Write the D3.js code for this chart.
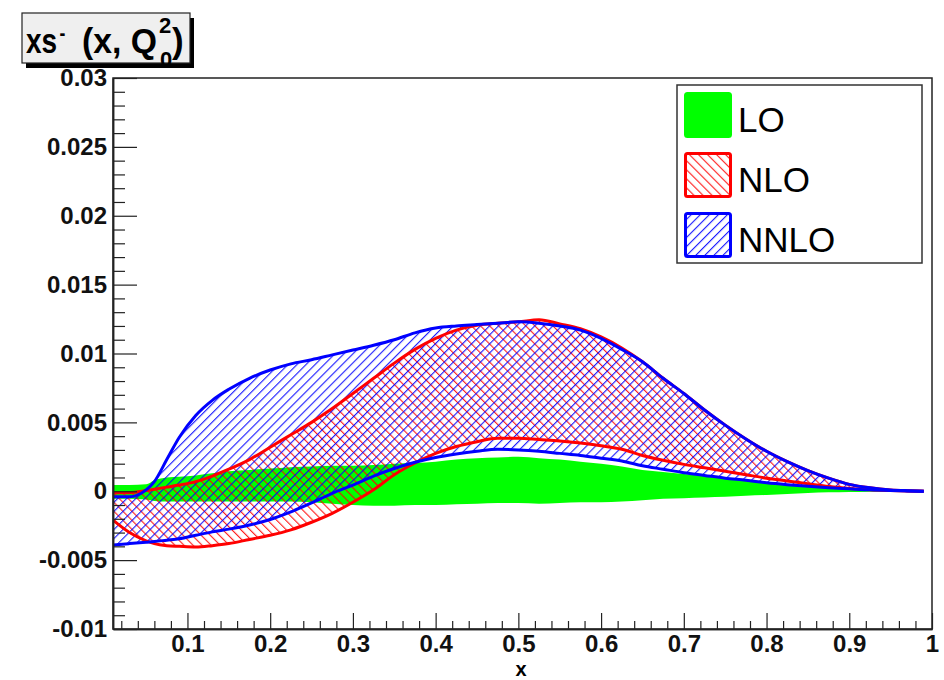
<!DOCTYPE html>
<html>
<head>
<meta charset="utf-8">
<script src="https://cdn.jsdelivr.net/npm/d3@7"></script>
<style>
  body { margin: 0; background: #fff; }
  text { font-family: "Liberation Sans", Arial, Helvetica, sans-serif; }
</style>
</head>
<body>
<div id="chart"></div>
<script>
// Data (y values in units of 1e-3)
var xGrid = [0.01, 0.03, 0.05, 0.06, 0.075, 0.09, 0.11, 0.13, 0.15, 0.175, 0.2, 0.225, 0.25, 0.275, 0.3,
  0.325, 0.35, 0.375, 0.4, 0.425, 0.45, 0.475, 0.5, 0.525, 0.55, 0.575, 0.6, 0.625, 0.65, 0.675, 0.7,
  0.725, 0.75, 0.775, 0.8, 0.825, 0.85, 0.875, 0.9, 0.925, 0.95, 0.97, 0.99];

var loUpper = [0.45, 0.45, 0.5, 0.8, 1.0, 1.05, 1.15, 1.3, 1.45, 1.55, 1.65, 1.75, 1.8, 1.85, 1.85,
  1.9, 2.0, 2.05, 2.15, 2.3, 2.4, 2.45, 2.5, 2.4, 2.3, 2.15, 2.0, 1.8, 1.55, 1.4, 1.25,
  1.1, 0.9, 0.75, 0.6, 0.45, 0.33, 0.22, 0.14, 0.08, 0.04, 0.02, 0.0];
var loLower = [-0.55, -0.55, -0.6, -0.7, -0.75, -0.75, -0.75, -0.75, -0.75, -0.75, -0.75, -0.75, -0.8, -0.9, -1.0,
  -1.05, -1.05, -1.0, -1.0, -0.95, -0.9, -0.85, -0.85, -0.9, -0.85, -0.8, -0.8, -0.75, -0.65, -0.55, -0.5,
  -0.45, -0.4, -0.33, -0.27, -0.2, -0.13, -0.08, -0.05, -0.03, -0.01, 0.0, 0.0];

var nloUpper = [-0.1, -0.1, 0.05, 0.15, 0.3, 0.45, 0.7, 1.1, 1.6, 2.3, 3.2, 4.1, 5.0, 6.0, 7.1,
  8.2, 9.3, 10.3, 11.1, 11.7, 12.05, 12.2, 12.3, 12.45, 12.15, 11.8, 11.2, 10.4, 9.4, 8.2, 7.1,
  5.9, 4.8, 3.8, 2.9, 2.15, 1.5, 0.95, 0.5, 0.25, 0.1, 0.04, 0.0];
var nloLower = [-2.1, -3.0, -3.6, -3.8, -3.95, -4.0, -4.05, -3.95, -3.8, -3.5, -3.2, -2.8, -2.25, -1.6, -0.8,
  0.1, 1.2, 2.05, 2.75, 3.25, 3.6, 3.85, 3.85, 3.75, 3.65, 3.5, 3.3, 3.05, 2.6, 2.25, 1.95,
  1.7, 1.45, 1.2, 0.95, 0.75, 0.55, 0.35, 0.2, 0.1, 0.05, 0.02, 0.0];

var nnloUpper = [-0.4, -0.4, 0.1, 0.7, 2.3, 3.9, 5.5, 6.6, 7.4, 8.2, 8.8, 9.25, 9.55, 9.9, 10.25,
  10.6, 11.0, 11.5, 11.85, 12.0, 12.1, 12.2, 12.3, 12.2, 12.0, 11.7, 11.1, 10.3, 9.4, 8.2, 7.1,
  5.9, 4.8, 3.8, 2.9, 2.15, 1.5, 0.95, 0.5, 0.25, 0.1, 0.04, 0.0];
var nnloLower = [-3.9, -3.8, -3.7, -3.65, -3.55, -3.45, -3.2, -2.95, -2.75, -2.45, -2.05, -1.5, -0.85, -0.15, 0.45,
  1.1, 1.65, 2.1, 2.45, 2.7, 2.9, 3.05, 3.0, 2.9, 2.75, 2.6, 2.4, 2.2, 1.85, 1.6, 1.35,
  1.15, 0.95, 0.8, 0.62, 0.48, 0.36, 0.26, 0.18, 0.1, 0.05, 0.02, 0.0];

// Axis ticks
var xMajor = [0.1, 0.2, 0.3, 0.4, 0.5, 0.6, 0.7, 0.8, 0.9, 1];
var xLabels = ["0.1", "0.2", "0.3", "0.4", "0.5", "0.6", "0.7", "0.8", "0.9", "1"];
var xMinor = d3.range(2, 100, 2).filter(d => d % 10 !== 0).map(d => d / 100);
var yMajor = [-10, -5, 0, 5, 10, 15, 20, 25, 30];
var yLabels = ["-0.01", "-0.005", "0", "0.005", "0.01", "0.015", "0.02", "0.025", "0.03"];
var yMinor = d3.range(-9, 30, 1).filter(d => d % 5 !== 0);

var legendNames = ["LO", "NLO", "NNLO"];

const width = 944,
  height = 680,
  plot = { left: 113, right: 932, top: 78, bottom: 629 };

var x = d3.scaleLinear().domain([0.01, 1]).range([plot.left, plot.right]);
var y = d3.scaleLinear().domain([-10, 30]).range([plot.bottom, plot.top]);

var svg = d3.select("#chart").append("svg")
  .attr("width", width)
  .attr("height", height);

var defs = svg.append("defs");

// hatch patterns: red "\\\" and blue "///"
function hatch(id, color, angle) {
  var p = defs.append("pattern")
    .attr("id", id)
    .attr("patternUnits", "userSpaceOnUse")
    .attr("width", 6.4)
    .attr("height", 6.4)
    .attr("patternTransform", "rotate(" + angle + ")");
  p.append("line")
    .attr("x1", 0.6).attr("y1", 0)
    .attr("x2", 0.6).attr("y2", 6.4)
    .attr("stroke", color)
    .attr("stroke-width", 1);
}
hatch("hatchRed", "#ff0000", -45);
hatch("hatchBlue", "#0000ff", 45);

defs.append("clipPath").attr("id", "clip")
  .append("rect")
  .attr("x", plot.left).attr("y", plot.top)
  .attr("width", plot.right - plot.left)
  .attr("height", plot.bottom - plot.top);

// Bands
var bands = svg.append("g").attr("clip-path", "url(#clip)");

function band(upper, lower) {
  return d3.area()
    .x((d, i) => x(xGrid[i]))
    .y0((d, i) => y(lower[i]))
    .y1((d, i) => y(upper[i]))
    .curve(d3.curveMonotoneX)(xGrid);
}
function edge(vals) {
  return d3.line()
    .x((d, i) => x(xGrid[i]))
    .y((d, i) => y(vals[i]))
    .curve(d3.curveMonotoneX)(xGrid);
}

bands.append("path").attr("d", band(loUpper, loLower)).attr("fill", "#00ff00");

bands.append("path").attr("d", band(nloUpper, nloLower)).attr("fill", "url(#hatchRed)");
bands.append("path").attr("d", band(nnloUpper, nnloLower)).attr("fill", "url(#hatchBlue)");

[nloUpper, nloLower].forEach(v => {
  bands.append("path").attr("d", edge(v))
    .attr("fill", "none").attr("stroke", "#ff0000").attr("stroke-width", 3);
});
[nnloUpper, nnloLower].forEach(v => {
  bands.append("path").attr("d", edge(v))
    .attr("fill", "none").attr("stroke", "#0000ff").attr("stroke-width", 3);
});

// Frame
svg.append("rect")
  .attr("x", plot.left).attr("y", plot.top)
  .attr("width", plot.right - plot.left)
  .attr("height", plot.bottom - plot.top)
  .attr("fill", "none")
  .attr("stroke", "#222")
  .attr("stroke-width", 1.5);

// Axes, ticks pointing inward
svg.append("g")
  .attr("transform", "translate(0," + plot.bottom + ")")
  .call(d3.axisBottom(x).tickValues(xMajor).tickSizeInner(-16).tickSizeOuter(0).tickPadding(6)
    .tickFormat((d, i) => xLabels[i]));
svg.append("g")
  .attr("transform", "translate(0," + plot.bottom + ")")
  .call(d3.axisBottom(x).tickValues(xMinor).tickSizeInner(-8).tickSizeOuter(0).tickFormat(""));

svg.append("g")
  .attr("transform", "translate(" + plot.left + ",0)")
  .call(d3.axisLeft(y).tickValues(yMajor).tickSizeInner(-24).tickSizeOuter(0).tickPadding(6)
    .tickFormat((d, i) => yLabels[i]));
svg.append("g")
  .attr("transform", "translate(" + plot.left + ",0)")
  .call(d3.axisLeft(y).tickValues(yMinor).tickSizeInner(-12).tickSizeOuter(0).tickFormat(""));

svg.selectAll(".domain").attr("stroke", "#222").attr("stroke-width", 1.5);
svg.selectAll(".tick line").attr("stroke", "#222").attr("stroke-width", 1.2);
svg.selectAll(".tick text")
  .attr("font-family", "Liberation Sans, Arial, sans-serif")
  .attr("font-size", 24)
  .attr("font-weight", "bold")
  .attr("fill", "#111");

svg.append("text")
  .attr("x", 521).attr("y", 675.5)
  .attr("text-anchor", "middle")
  .attr("font-size", 20).attr("font-weight", "bold")
  .text("x");

// Legend
var lg = svg.append("g");
lg.append("rect")
  .attr("x", 677).attr("y", 85).attr("width", 245).attr("height", 178)
  .attr("fill", "#fff").attr("stroke", "#333").attr("stroke-width", 1.5);

var swatchFill = ["#00ff00", "url(#hatchRed)", "url(#hatchBlue)"],
  swatchStroke = ["#00ff00", "#ff0000", "#0000ff"];
legendNames.forEach((name, i) => {
  var top = 93 + i * 60;
  lg.append("rect")
    .attr("x", 685.5).attr("y", top + 0.5).attr("width", 45).attr("height", 43)
    .attr("rx", 2)
    .attr("fill", swatchFill[i]).attr("stroke", swatchStroke[i]).attr("stroke-width", 3);
  lg.append("text")
    .attr("x", 738).attr("y", top + 39)
    .attr("font-size", 35)
    .text(name);
});

// Title box with shadow
var tb = svg.append("g");
tb.append("rect").attr("x", 26).attr("y", 18).attr("width", 168).attr("height", 50).attr("fill", "#000");
tb.append("rect").attr("x", 22).attr("y", 13).attr("width", 168).attr("height", 50)
  .attr("fill", "#efefef").attr("stroke", "#222").attr("stroke-width", 1.2);

var tt = tb.append("g").attr("font-weight", "bold").attr("fill", "#000");
var head = tt.append("text")
  .attr("transform", "translate(26,53) scale(0.8,1)")
  .attr("font-size", 35);
head.append("tspan").text("xs");
head.append("tspan").attr("dx", 3).attr("dy", -13).attr("font-size", 22).text("-");
tt.append("text").attr("x", 82).attr("y", 53).attr("font-size", 35)
  .attr("textLength", 75).attr("lengthAdjust", "spacingAndGlyphs").text("(x, Q");
tt.append("text").attr("x", 159).attr("y", 33).attr("font-size", 22).text("2");
tt.append("text").attr("x", 160).attr("y", 67).attr("font-size", 22).text("0");
tt.append("text").attr("x", 172).attr("y", 53).attr("font-size", 35).text(")");
</script>
</body>
</html>
